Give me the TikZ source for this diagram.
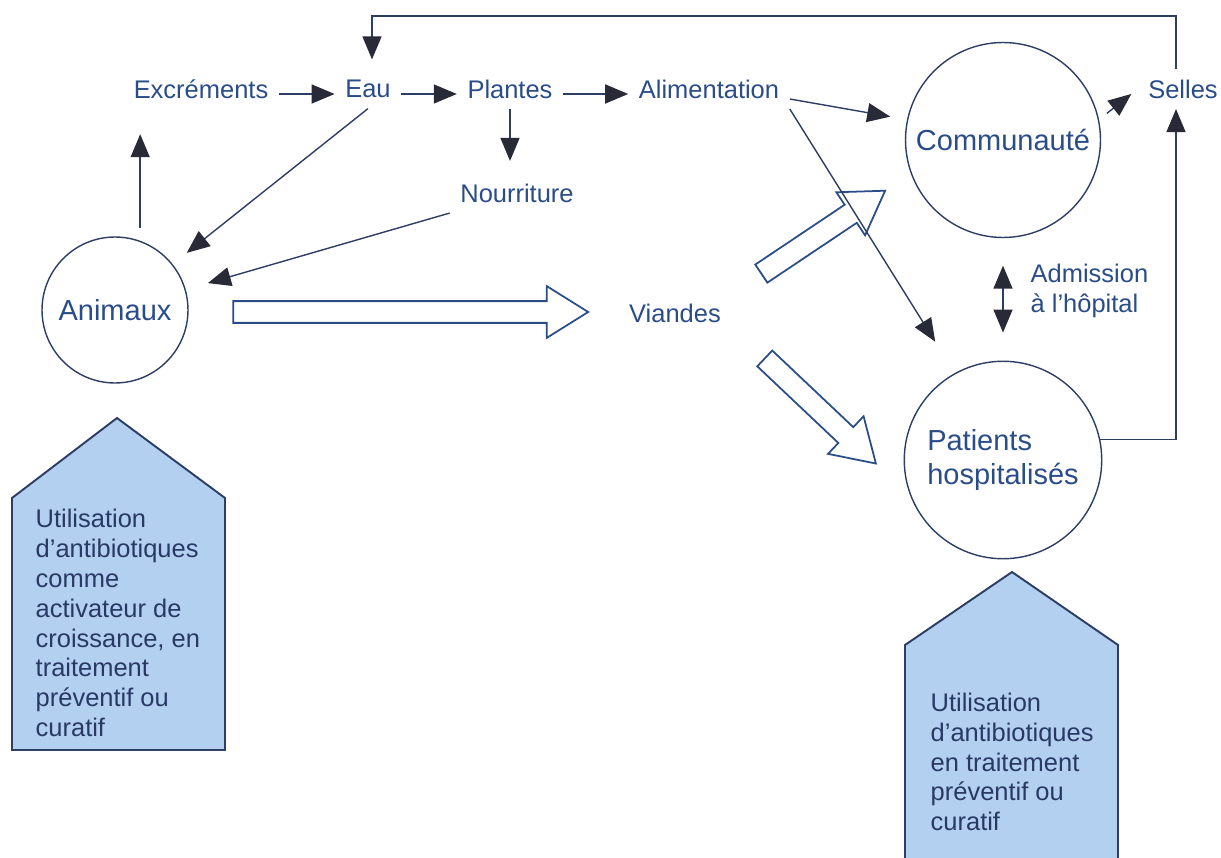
\documentclass[tikz,border=0pt]{standalone}
\usepackage{fontspec}
\setmainfont{Liberation Sans}
\usetikzlibrary{arrows.meta, shapes.arrows}
\definecolor{bleutexte}{RGB}{42,76,136}
\definecolor{texteboite}{RGB}{40,58,100}
\definecolor{trait}{RGB}{45,62,100}
\definecolor{pointe}{RGB}{40,42,55}
\definecolor{bleuboite}{RGB}{180,208,240}

\begin{document}
\begin{tikzpicture}[
            x = 0.02cm, y = -0.02cm, % one unit = one pixel of the scan
            > = {Triangle[length=4.6mm, width=3.8mm, color=pointe]}, % arrow head style
            line width = 0.8pt
        ]

        \tikzstyle{mot}=[
            text = bleutexte,
            font = \fontsize{14.5}{17}\selectfont,
            inner sep = 2mm
        ]
        \tikzstyle{lieu}=[
            circle,
            draw = trait,
            text = bleutexte,
            font = \fontsize{16.5}{19}\selectfont,
            align = left,
            inner sep = 0pt
        ]
        \tikzstyle{large}=[
            single arrow,
            draw = bleutexte,
            fill = white,
            line width = 1pt,
            inner xsep = 0pt, inner ysep = 2mm,
            single arrow head extend = 3mm,
            single arrow tip angle = 64
        ]
        \tikzstyle{boite}=[
            draw = trait,
            fill = bleuboite,
            line width = 1.1pt
        ]
        \tikzstyle{every edge}=[draw = trait]

        \useasboundingbox (0,0) rectangle (1221,858);
        \clip (0,0) rectangle (1221,858);

        \node[mot] (exc) at (201,89) {Excréments};
        \node[mot] (eau) at (368,89) {Eau};
        \node[mot] (plantes) at (510,89) {Plantes};
        \node[mot] (alim) at (709,89) {Alimentation};
        \node[mot] (selles) at (1183,89) {Selles};
        \node[mot] (nour) at (517,193) {Nourriture};
        \node[mot] (viandes) at (675,313) {Viandes};

        \node[lieu, minimum size=2.92cm] (ani) at (115,310) {Animaux};
        \node[lieu, minimum size=3.9cm] (com) at (1003,140) {Communauté};
        \node[lieu, minimum size=3.95cm] (pat) at (1003,460) {Patients\\hospitalisés};
        \node[mot, anchor=west, align=left, inner sep=0pt] (adm) at (1030,291) {Admission\\à l’hôpital};

        % big hollow arrows
        \node[large, minimum height=7.1cm] (g1) at (402,312) {};
        \node[large, minimum height=2.98cm, rotate=33.8] (g2) at (816,237) {};
        \node[large, minimum height=3.06cm, rotate=-43.4] (g3) at (814,405) {};

        \path[->] ([yshift=-1mm]exc.east) edge ([yshift=-1mm]eau.west);
        \path[->] ([yshift=-1mm]eau.east) edge ([yshift=-1mm]plantes.west);
        \path[->] ([yshift=-1mm]plantes.east) edge ([yshift=-1mm]alim.west);
        \path[->] (plantes.south) edge[shorten >=2.4mm] (plantes.south |- nour.north);
        \path[->] (ani.70) edge[shorten <=2.6mm, shorten >=5mm] (ani.70 |- exc.south);
        \path[->] (eau.south) edge[shorten >=3.6mm] (ani);
        \path[->] (nour.south west) edge[shorten >=4.6mm] (ani);
        \path[->] ([yshift=-2mm]alim.east) edge[shorten >=3.4mm] (com.168);
        \path[->] (alim.south east) edge[shorten >=7.4mm] (pat.119);
        \path[->] (com.12) edge[shorten <=2mm, shorten >=1.6mm] (selles.west);
        \path[<->] (com.south) edge[shorten <=5.5mm, shorten >=5.6mm] (pat.north);

        \coordinate (toit) at (700,16);
        \draw[->, trait] (pat.12) -| ([xshift=-1.4mm]selles.south);
        \draw[->, trait, shorten >=2mm] ([xshift=-1.4mm]selles.north) |- (toit) -| ([xshift=0.8mm]eau.north);

        % antibiotic use
        \draw[boite] (12,498) -- (117,418) -- (225,498) -- (225,750) -- (12,750) -- cycle;
        \node[mot, anchor=west, align=left, inner sep=0pt, text=texteboite] (usage1) at (35,623)
            {Utilisation\\d’antibiotiques\\comme\\activateur de\\croissance, en\\traitement\\préventif ou\\curatif};
        \draw[boite] (905,645) -- (1012,572) -- (1118,645) -- (1118,880) -- (905,880) -- cycle;
        \node[mot, anchor=west, align=left, inner sep=0pt, text=texteboite] (usage2) at (930,762)
            {Utilisation\\d’antibiotiques\\en traitement\\préventif ou\\curatif};
    \end{tikzpicture}
\end{document}
